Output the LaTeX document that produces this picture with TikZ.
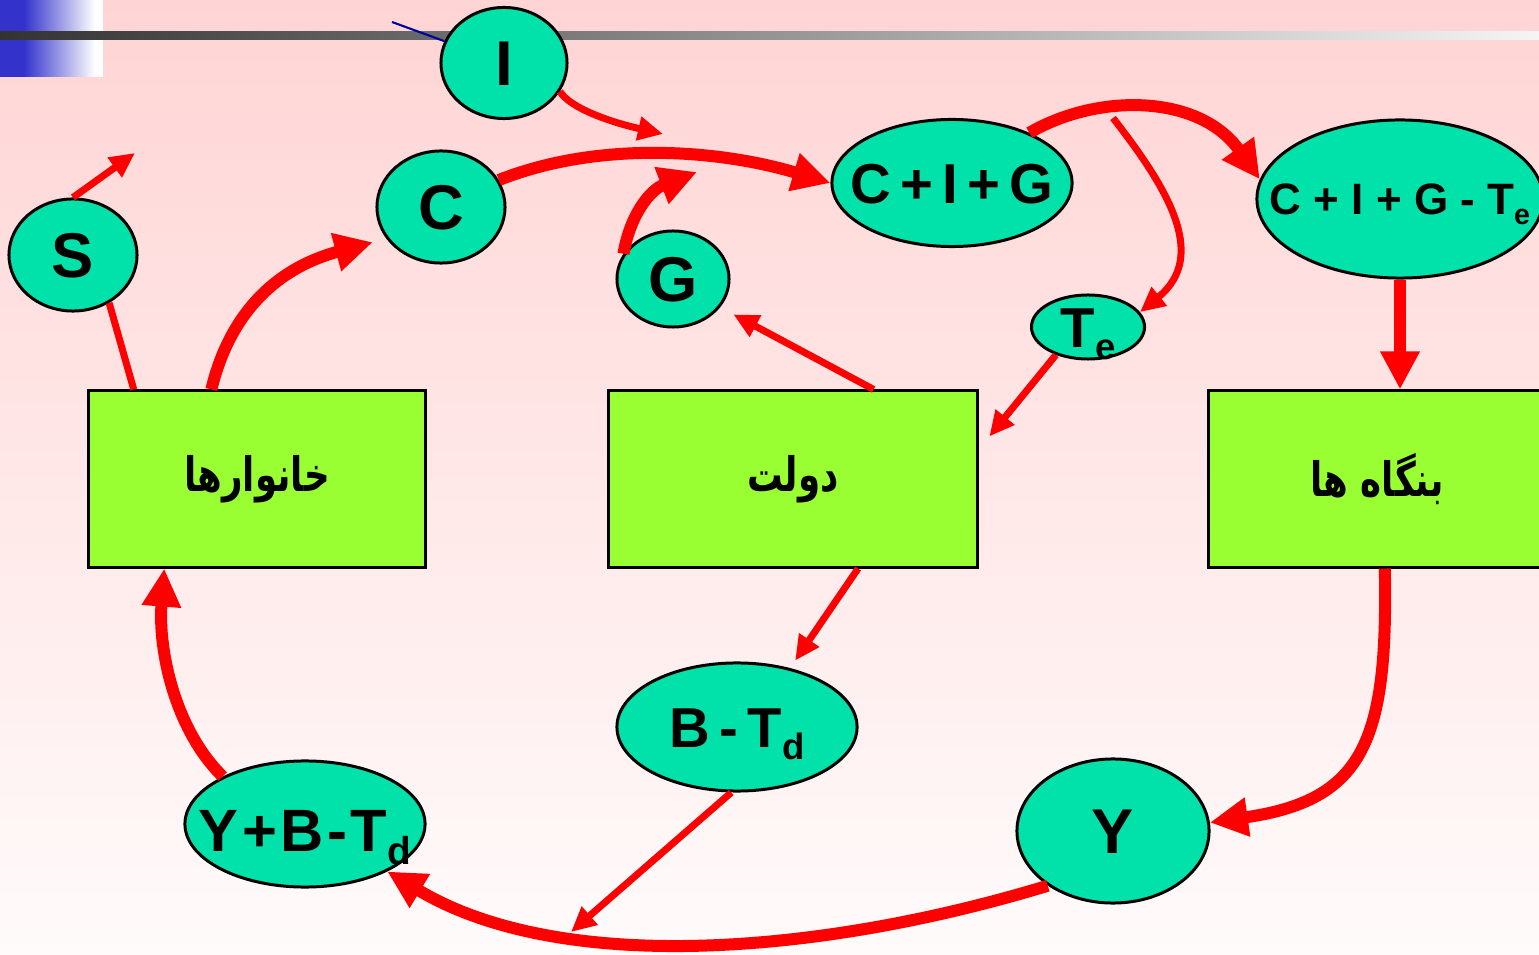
\documentclass[tikz,border=0pt]{standalone}
\usepackage{fontspec}
\usepackage{xcolor}
\usepackage{graphicx}
\usepackage{tikz}
\usetikzlibrary{shapes.geometric,arrows.meta}
\setmainfont{Liberation Sans}
\newfontfamily\persianfont[Script=Arabic,FakeStretch=0.75]{DejaVu Sans}
\TeXXeTstate=1
\definecolor{bubblefill}{RGB}{0,226,170}
\definecolor{boxfill}{RGB}{153,255,51}
\definecolor{pinktop}{RGB}{255,212,212}
\definecolor{pinkbottom}{RGB}{255,251,251}
\definecolor{cornerblue}{RGB}{51,51,204}
\definecolor{darkbar}{RGB}{51,51,51}
\definecolor{thinblue}{RGB}{0,0,160}
\newcommand{\lowsub}[1]{\raisebox{-0.22em}{\scalebox{0.65}{#1}}}
\newcommand{\midtext}[1]{\smash{\makebox[0pt]{\raisebox{-0.36em}{#1}}}}
\begin{document}
\begin{tikzpicture}[x=0.01cm,y=-0.01cm,
  bubble/.style={ellipse,draw,fill=bubblefill,line width=0.85pt,inner sep=0pt,font=\bfseries\fontsize{18}{20}\selectfont},
  agent/.style={rectangle,draw,fill=boxfill,line width=0.85pt,inner sep=0pt,minimum width=3.36cm,minimum height=1.76cm,font=\persianfont\bfseries\fontsize{13.5}{16}\selectfont},
  fat/.style={draw=red,line width=0.12cm,-{Triangle[length=0.38cm,width=0.37cm]}},
  slim/.style={draw=red,line width=0.07cm,-{Triangle[length=0.25cm,width=0.23cm]}}]
%\draw[help lines,step=100] (0,0) grid (1539,955);
\useasboundingbox (0,0) rectangle (1539,955);
\clip (0,0) rectangle (1539,955);
\shade[top color=pinktop,bottom color=pinkbottom] (0,0) rectangle (1539,955);
\fill[cornerblue] (0,0) rectangle (24,77);
\shade[left color=cornerblue,right color=white] (24,0) rectangle (95,77);
\fill[white] (95,0) rectangle (103,77);
\shade[left color=darkbar,right color=gray!8] (0,32) rectangle (1539,40);
\path (0,0)
(504,63) node(i) [bubble,minimum width=1.26cm,minimum height=1.11cm] {\midtext{I}}
(73,255) node(s) [bubble,minimum width=1.28cm,minimum height=1.12cm] {\midtext{S}}
(441,207) node(c) [bubble,minimum width=1.28cm,minimum height=1.12cm] {\midtext{C}}
(673,279) node(g) [bubble,minimum width=1.12cm,minimum height=0.96cm] {\midtext{G}}
(952,183) node(cig) [bubble,minimum width=2.40cm,minimum height=1.27cm,font=\bfseries\fontsize{16}{18}\selectfont] {\midtext{C\,+\,I\,+\,G}}
(1400,199) node(cigt) [bubble,minimum width=2.86cm,minimum height=1.58cm,font=\bfseries\fontsize{12.5}{14}\selectfont] {\midtext{C + I + G - T\lowsub{e}}}
(1088,327) node(te) [bubble,minimum width=1.13cm,minimum height=0.64cm,font=\bfseries\fontsize{16}{18}\selectfont] {\midtext{T\lowsub{e}}}
(737,727) node(btd) [bubble,minimum width=2.40cm,minimum height=1.28cm,font=\bfseries\fontsize{16}{18}\selectfont] {\midtext{B\,-\,T\lowsub{d}}}
(305,824) node(ybt) [bubble,minimum width=2.40cm,minimum height=1.26cm,font=\bfseries\fontsize{17}{19}\selectfont] {\midtext{\raisebox{-0.1em}{Y\kern.06em+\kern.06em B\kern.06em-\kern.06em T\lowsub{d}}}}
(1113,831) node(y) [bubble,minimum width=1.92cm,minimum height=1.44cm] {\midtext{Y}}
(257,479) node(hh) [agent] {\beginR خانوارها\endR}
(793,479) node(gov) [agent,minimum width=3.68cm] {\beginR دولت\endR}
(1377,479) node(firm) [agent] {\beginR بنگاه ها\endR};
\coordinate (bluetip) at (392,22);
\coordinate (sfree) at (135,153);
\coordinate (ifree) at (663,134);
\coordinate (gfree) at (697,172);
\coordinate (split) at (1113,118);
\coordinate (bfree) at (571,932);
\draw[thinblue,line width=0.6pt] (bluetip) -- (i);
\draw[slim] (s.north) -- (sfree);
\draw[slim,-] (hh.144) -- (s.-53);
\draw[fat,shorten >=0.14cm] (hh.117) .. controls (228,320) and (270,270) .. (c.210);
\draw[fat] (c.25) .. controls (600,140) and (720,150) .. (cig.west);
\draw[slim] (i.-27) .. controls (570,108) and (610,122) .. (ifree);
\draw[fat] (g.153) .. controls (630,215) and (650,190) .. (gfree);
\draw[fat] (cig.33) .. controls (1100,92) and (1200,95) .. (cigt.172);
\draw[slim] (split) .. controls (1165,185) and (1210,255) .. (te.16);
\draw[slim,shorten >=0.17cm] (te.221) -- (gov.9);
\draw[slim,shorten >=0.15cm] (gov.48) -- (g.-31);
\draw[fat] (cigt) -- (cigt |- firm.north);
\draw[fat] (firm.-85) .. controls (1388,740) and (1365,800) .. (y.5);
\draw[fat] (y.220) .. controls (820,955) and (560,975) .. (ybt.-30);
\draw[slim] (btd.265) -- (bfree);
\draw[slim,shorten >=0.09cm] (gov.-54) -- (btd.48);
\draw[fat] (ybt.150) .. controls (175,730) and (158,650) .. (hh.224);
\end{tikzpicture}
\end{document}
